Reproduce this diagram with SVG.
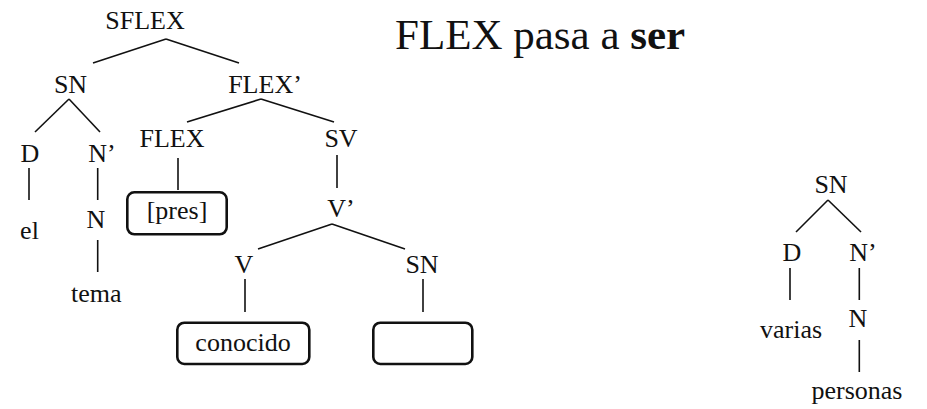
<svg xmlns="http://www.w3.org/2000/svg" width="927" height="409" viewBox="0 0 927 409">
<style>
text{font-family:'Liberation Serif','DejaVu Serif',serif;font-size:26px;fill:#111;text-anchor:middle}
.title{font-size:43px;text-anchor:start}
.edge{stroke:#111;stroke-width:1.6;fill:none}
.box{stroke:#111;stroke-width:2.6;fill:#fff}
</style>
<rect width="927" height="409" fill="#fff"/>
<g font-family="Liberation Serif, DejaVu Serif, serif">
<text class="title" x="395" y="49">FLEX pasa a <tspan font-weight="bold">ser</tspan></text>
<g id="connectors">
<line class="edge" x1="166" y1="39" x2="93" y2="63"/>
<line class="edge" x1="166" y1="39" x2="239" y2="63"/>
<line class="edge" x1="69" y1="99" x2="35" y2="132"/>
<line class="edge" x1="69" y1="99" x2="100" y2="132"/>
<line class="edge" x1="261" y1="99" x2="187" y2="122"/>
<line class="edge" x1="261" y1="99" x2="334" y2="122"/>
<line class="edge" x1="29" y1="168" x2="29" y2="200"/>
<line class="edge" x1="97.7" y1="168" x2="97.7" y2="200"/>
<line class="edge" x1="97.7" y1="240" x2="97.7" y2="272"/>
<line class="edge" x1="178" y1="158" x2="178" y2="190"/>
<line class="edge" x1="337" y1="155" x2="337" y2="188"/>
<line class="edge" x1="332" y1="224" x2="258" y2="249"/>
<line class="edge" x1="332" y1="224" x2="405" y2="249"/>
<line class="edge" x1="245" y1="279" x2="245" y2="312"/>
<line class="edge" x1="423" y1="279" x2="423" y2="312"/>
<line class="edge" x1="828" y1="200" x2="796" y2="232"/>
<line class="edge" x1="828" y1="200" x2="861" y2="232"/>
<line class="edge" x1="790" y1="268" x2="790" y2="300"/>
<line class="edge" x1="859.3" y1="268" x2="859.3" y2="300"/>
<line class="edge" x1="859.3" y1="340" x2="859.3" y2="372"/>
</g>
<g id="sflex"><text x="145" y="29">SFLEX</text></g>
<g id="sn1"><text x="70.5" y="93">SN</text></g>
<g id="flexbar"><text x="265" y="93">FLEX’</text></g>
<g id="d1"><text x="30" y="162">D</text></g>
<g id="nbar1"><text x="102" y="162">N’</text></g>
<g id="el"><text x="29.5" y="239">el</text></g>
<g id="n1"><text x="96" y="228">N</text></g>
<g id="tema"><text x="96.3" y="302">tema</text></g>
<g id="flex"><text x="172" y="147">FLEX</text></g>
<g id="sv"><text x="341" y="147">SV</text></g>
<g id="pres"><rect class="box" x="127.3" y="192.3" width="99.4" height="42" rx="7"/><text x="177" y="219">[pres]</text></g>
<g id="vbar"><text x="341" y="217">V’</text></g>
<g id="v"><text x="244" y="273">V</text></g>
<g id="sn2"><text x="422" y="273">SN</text></g>
<g id="conocido"><rect class="box" x="177.3" y="322.7" width="132" height="41.3" rx="7"/><text x="243" y="351">conocido</text></g>
<g id="empty"><rect class="box" x="373.3" y="322.7" width="99" height="41.3" rx="7"/></g>
<g id="sn3"><text x="831" y="193">SN</text></g>
<g id="d2"><text x="792" y="261">D</text></g>
<g id="nbar2"><text x="863" y="261">N’</text></g>
<g id="varias"><text x="791" y="338">varias</text></g>
<g id="n2"><text x="858" y="327">N</text></g>
<g id="personas"><text x="857" y="399">personas</text></g>
</g>
</svg>
